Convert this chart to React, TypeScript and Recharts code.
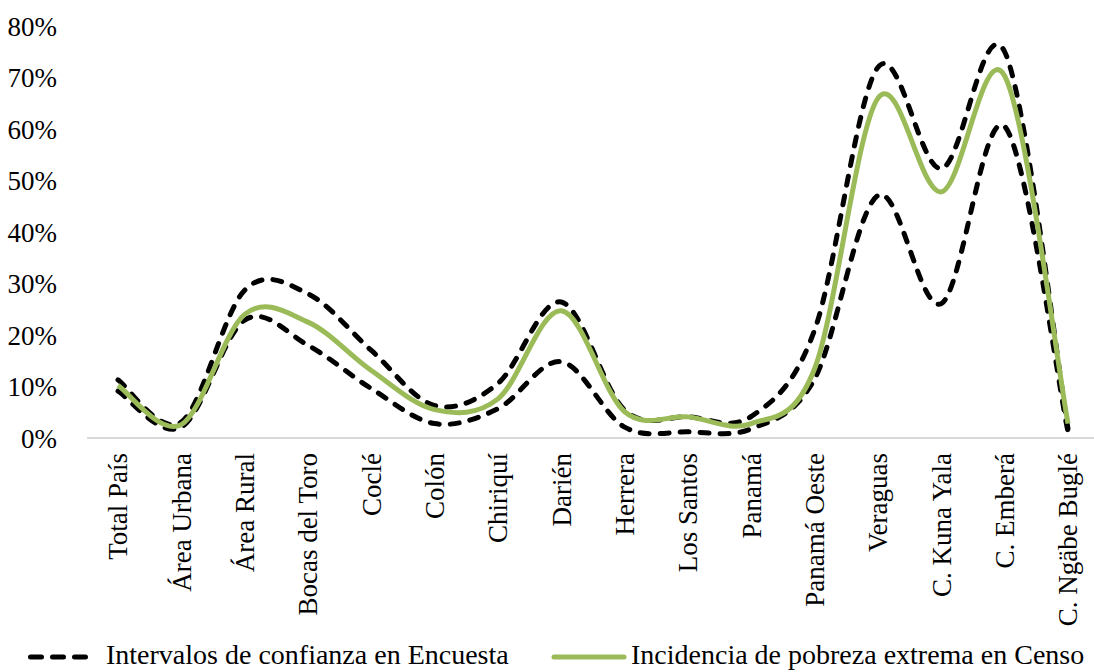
import { Legend, Line, LineChart, XAxis, YAxis } from "recharts";

const categories = [
  "Total País",
  "Área Urbana",
  "Área Rural",
  "Bocas del Toro",
  "Coclé",
  "Colón",
  "Chiriquí",
  "Darién",
  "Herrera",
  "Los Santos",
  "Panamá",
  "Panamá Oeste",
  "Veraguas",
  "C. Kuna Yala",
  "C. Emberá",
  "C. Ngäbe Buglé",
];

// incidencia de pobreza extrema (Censo), en %
const censo = [10.2, 2.6, 24.0, 22.5, 13.1, 5.5, 7.6, 24.7, 5.1, 4.1, 2.8, 13.5, 66.0, 47.8, 70.3, 2.8];
// intervalo de confianza de la encuesta, límites superior e inferior
const limiteSuperior = [11.3, 3.1, 28.7, 28.0, 17.0, 6.3, 10.6, 26.4, 5.4, 4.1, 4.2, 21.0, 72.0, 52.3, 75.0, 1.8];
const limiteInferior = [9.1, 2.1, 22.9, 18.0, 9.6, 2.8, 5.7, 14.8, 2.1, 1.2, 1.8, 11.5, 47.1, 26.1, 60.5, 1.2];

const yTicks = [0, 10, 20, 30, 40, 50, 60, 70, 80];

const data = categories.map((name, i) => ({
  name,
  censo: censo[i],
  sup: limiteSuperior[i],
  inf: limiteInferior[i],
}));

const FONT = "'Liberation Serif', 'Times New Roman', serif";
const GREEN = "#9BBB59";

// suavizado tipo Excel (Catmull-Rom)
const excelSmooth = (context: any) => {
  let xs: number[] = [];
  let ys: number[] = [];
  return {
    areaStart() {},
    areaEnd() {},
    lineStart() {
      xs = [];
      ys = [];
    },
    point(x: number, y: number) {
      xs.push(+x);
      ys.push(+y);
    },
    lineEnd() {
      const n = xs.length;
      if (!n) return;
      context.moveTo(xs[0], ys[0]);
      for (let i = 0; i < n - 1; i++) {
        const p = Math.max(i - 1, 0);
        const q = Math.min(i + 2, n - 1);
        context.bezierCurveTo(
          xs[i] + (xs[i + 1] - xs[p]) / 6,
          ys[i] + (ys[i + 1] - ys[p]) / 6,
          xs[i + 1] - (xs[q] - xs[i]) / 6,
          ys[i + 1] - (ys[q] - ys[i]) / 6,
          xs[i + 1],
          ys[i + 1]
        );
      }
    },
  };
};

function CategoryTick({ x, y, payload }: any) {
  return (
    <text
      x={x}
      y={y}
      transform={`rotate(-90, ${x}, ${y})`}
      textAnchor="end"
      dy="0.35em"
      fontFamily={FONT}
      fontSize={27}
      fill="#000"
    >
      {payload.value}
    </text>
  );
}

function ChartLegend() {
  return (
    <div style={{ position: "relative", height: 34, fontFamily: FONT, fontSize: 28, color: "#000" }}>
      <svg width={64} height={10} style={{ position: "absolute", left: 28, top: 14 }}>
        <line x1={2.5} y1={5} x2={62} y2={5} stroke="#000" strokeWidth={5} strokeDasharray="11 11" strokeLinecap="round" />
      </svg>
      <span style={{ position: "absolute", left: 106, top: 0, whiteSpace: "nowrap", lineHeight: "34px" }}>
        Intervalos de confianza en Encuesta
      </span>
      <svg width={76} height={10} style={{ position: "absolute", left: 551, top: 14 }}>
        <line x1={3} y1={5} x2={73} y2={5} stroke={GREEN} strokeWidth={5} strokeLinecap="round" />
      </svg>
      <span style={{ position: "absolute", left: 631, top: 0, whiteSpace: "nowrap", lineHeight: "34px" }}>
        Incidencia de pobreza extrema en Censo
      </span>
    </div>
  );
}

export default function App() {
  return (
    <div
      style={{
        position: "absolute",
        left: 0,
        top: 0,
        width: 1094,
        height: 672,
        overflow: "hidden",
        background: "#fff",
      }}
    >
      <LineChart width={1100} height={672} data={data} margin={{ top: 26, right: 0, bottom: 0, left: 0 }}>
        <XAxis
          dataKey="name"
          interval={0}
          height={200}
          padding={{ left: 31, right: 32 }}
          tickLine={false}
          tickSize={0}
          tickMargin={15}
          axisLine={{ stroke: "#D9D9D9", strokeWidth: 2 }}
          tick={<CategoryTick />}
        />
        <YAxis
          domain={[0, 80]}
          ticks={yTicks}
          width={87}
          axisLine={false}
          tickLine={false}
          tickSize={0}
          tickMargin={30}
          tickFormatter={(v) => `${v}%`}
          tick={{ fontFamily: FONT, fontSize: 27, fill: "#000" }}
        />
        <Legend verticalAlign="bottom" height={34} content={<ChartLegend />} />
        <Line
          dataKey="sup"
          type={excelSmooth as any}
          stroke="#000"
          strokeWidth={5}
          strokeDasharray="9 11"
          strokeLinecap="round"
          dot={false}
          activeDot={false}
          isAnimationActive={false}
        />
        <Line
          dataKey="inf"
          type={excelSmooth as any}
          stroke="#000"
          strokeWidth={5}
          strokeDasharray="9 11"
          strokeLinecap="round"
          dot={false}
          activeDot={false}
          isAnimationActive={false}
        />
        <Line
          dataKey="censo"
          type={excelSmooth as any}
          stroke={GREEN}
          strokeWidth={5}
          dot={false}
          activeDot={false}
          isAnimationActive={false}
        />
      </LineChart>
    </div>
  );
}
